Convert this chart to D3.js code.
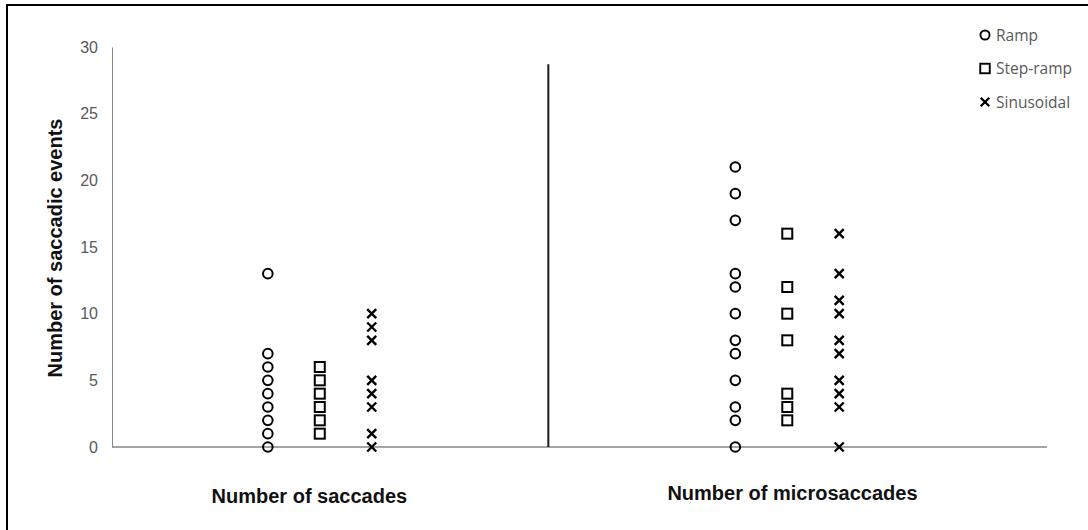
<!DOCTYPE html>
<html>
<head>
<meta charset="utf-8">
<script src="https://cdn.jsdelivr.net/npm/d3@7"></script>
<style>
  body { margin: 0; background: #fff; }
  svg { display: block; }
</style>
</head>
<body>
<svg id="chart" width="1088" height="530"></svg>
<script>
// Values
const groups = ["Number of saccades", "Number of microsaccades"];
const seriesNames = ["Ramp", "Step-ramp", "Sinusoidal"];
// x position (in plot units) of each series column, per group
const columnX = [[3, 4, 5], [12, 13, 14]];
const groupLabelX = [3.8, 13.1];
const dividerX = 8.4;
const dividerTop = 28.7;

const rampSaccades = [0, 1, 2, 3, 4, 5, 6, 7, 13];
const stepSaccades = [1, 2, 3, 4, 5, 6];
const sinSaccades = [0, 1, 3, 4, 5, 8, 9, 10];
const rampMicro = [0, 2, 3, 5, 7, 8, 10, 12, 13, 17, 19, 21];
const stepMicro = [2, 3, 4, 8, 10, 12, 16];
const sinMicro = [0, 3, 4, 5, 7, 8, 10, 11, 13, 16];
const yTicks = [0, 5, 10, 15, 20, 25, 30];

const values = [
  [rampSaccades, stepSaccades, sinSaccades],
  [rampMicro, stepMicro, sinMicro]
];

const svg = d3.select("#chart");

// frame around the picture (only the top and left edges are visible)
svg.append("path")
  .attr("d", "M7,530 V5 H1088")
  .attr("fill", "none")
  .attr("stroke", "#000")
  .attr("stroke-width", 2);

const x = d3.scaleLinear().domain([0, 18]).range([112, 1047]);
const y = d3.scaleLinear().domain([0, 30]).range([447, 47]);

// axes (lines only, no tick marks)
const yAxis = d3.axisLeft(y).tickValues(yTicks).tickSize(0).tickPadding(14);
svg.append("g")
  .attr("transform", `translate(${x(0)},0)`)
  .call(yAxis)
  .call(g => g.select(".domain").attr("stroke", "#868686"))
  .call(g => g.selectAll("text")
    .attr("font-family", "Liberation Sans, Arial, sans-serif")
    .attr("font-size", 16)
    .attr("fill", "#595959"));

svg.append("line")
  .attr("x1", x(0)).attr("x2", x(18))
  .attr("y1", y(0)).attr("y2", y(0))
  .attr("stroke", "#868686")
  .attr("stroke-width", 1.3);

// divider between the two groups
svg.append("line")
  .attr("x1", x(dividerX)).attr("x2", x(dividerX))
  .attr("y1", y(dividerTop)).attr("y2", y(0))
  .attr("stroke", "#1a1a1a")
  .attr("stroke-width", 2);

// markers
function drawMarker(g, kind) {
  if (kind === 0) {
    g.append("circle").attr("r", 4.8)
      .attr("fill", "none").attr("stroke", "#000").attr("stroke-width", 2);
  } else if (kind === 1) {
    g.append("rect").attr("x", -5).attr("y", -5).attr("width", 10).attr("height", 10)
      .attr("fill", "none").attr("stroke", "#000").attr("stroke-width", 2);
  } else {
    g.append("path").attr("d", "M-4.5,-4.5L4.5,4.5M-4.5,4.5L4.5,-4.5")
      .attr("fill", "none").attr("stroke", "#000").attr("stroke-width", 2.4);
  }
}

values.forEach((grp, gi) => {
  grp.forEach((vals, si) => {
    vals.forEach(v => {
      const m = svg.append("g")
        .attr("transform", `translate(${x(columnX[gi][si])},${y(v)})`);
      drawMarker(m, si);
    });
  });
});

// category labels
svg.selectAll("text.group")
  .data(groups)
  .join("text")
  .attr("class", "group")
  .attr("x", (d, i) => x(groupLabelX[i]))
  .attr("y", (d, i) => i === 0 ? 503 : 500)
  .attr("text-anchor", "middle")
  .attr("font-family", "Liberation Sans, Arial, sans-serif")
  .attr("font-weight", "bold")
  .attr("font-size", 20)
  .attr("fill", "#111")
  .text(d => d);

// y axis title
svg.append("text")
  .attr("transform", "translate(62,248) rotate(-90)")
  .attr("text-anchor", "middle")
  .attr("font-family", "Liberation Sans, Arial, sans-serif")
  .attr("font-weight", "bold")
  .attr("font-size", 20)
  .attr("fill", "#111")
  .text("Number of saccadic events");

// legend
const legend = svg.append("g").attr("transform", "translate(985,35)");
seriesNames.forEach((name, i) => {
  const item = legend.append("g").attr("transform", `translate(0,${i * 33.5})`);
  const m = item.append("g").attr("transform", "scale(0.95)");
  drawMarker(m, i);
  item.append("text")
    .attr("x", 11)
    .attr("y", 5.5)
    .attr("font-family", "Open Sans, sans-serif")
    .attr("font-size", 15.5)
    .attr("fill", "#595959")
    .text(name);
});
</script>
</body>
</html>
